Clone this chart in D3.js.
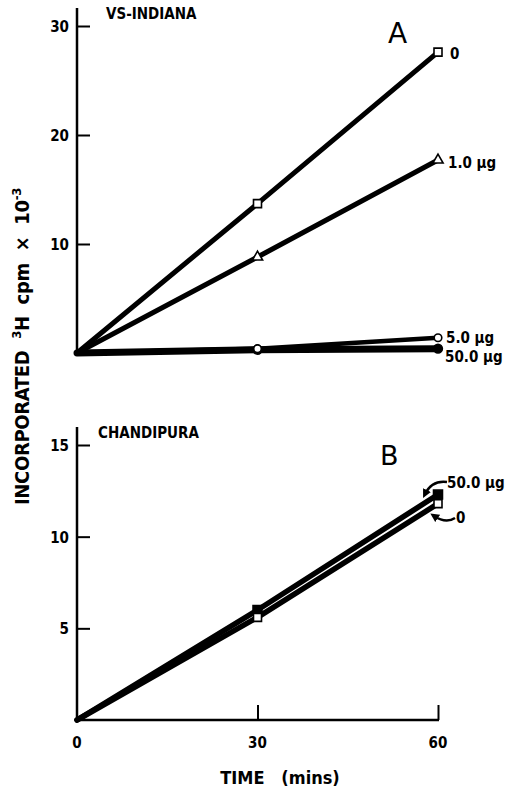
<!DOCTYPE html>
<html><head><meta charset="utf-8">
<script src="https://cdn.jsdelivr.net/npm/d3@7"></script>
<style>
body{margin:0;background:#fff;}
text{font-family:"DejaVu Sans Condensed","DejaVu Sans",sans-serif;font-weight:bold;fill:#000;}
</style></head><body>
<script>
const times = [0, 30, 60];
const aZero = [0, 13.7, 27.6];
const aOne = [0, 8.8, 17.7];
const aFive = [0, 0.4, 1.4];
const aFifty = [0, 0.3, 0.4];
const bZero = [0, 5.6, 11.8];
const bFifty = [0, 6.0, 12.3];
const aTicks = [10, 20, 30];
const bTicks = [5, 10, 15];
const xTicks = [0, 30, 60];

const svg = d3.select("body").append("svg").attr("width", 509).attr("height", 790);
const x = d3.scaleLinear().domain([0, 60]).range([77, 438]);
const yA = d3.scaleLinear().domain([0, 30]).range([353, 26]);
const yB = d3.scaleLinear().domain([0, 15]).range([720, 445]);

function yAxis(y, ticks, top) {
  const g = svg.append("g").attr("transform", "translate(77,0)");
  g.call(d3.axisRight(y).tickValues(ticks).tickSize(13).tickFormat(""));
  g.select(".domain").remove();
  g.selectAll(".tick line").attr("stroke", "#000").attr("stroke-width", 2);
  svg.append("line").attr("x1", 77).attr("x2", 77).attr("y1", top).attr("y2", y(0) + 1)
    .attr("stroke", "#000").attr("stroke-width", 2.5);
  ticks.forEach(t => {
    svg.append("text").attr("x", 69).attr("y", y(t) + 6).attr("text-anchor", "end")
      .attr("font-size", 15).text(t);
  });
}
yAxis(yA, aTicks, 8);
yAxis(yB, bTicks, 427);

// panel B x axis
const gx = svg.append("g").attr("transform", `translate(0,${yB(0)})`);
gx.call(d3.axisTop(x).tickValues([30, 60]).tickSize(15).tickFormat(""));
gx.select(".domain").remove();
gx.selectAll(".tick line").attr("stroke", "#000").attr("stroke-width", 2);
svg.append("line").attr("x1", 76).attr("x2", x(60) + 1).attr("y1", yB(0)).attr("y2", yB(0))
  .attr("stroke", "#000").attr("stroke-width", 2.5);
xTicks.forEach(t => {
  svg.append("text").attr("x", x(t)).attr("y", 748).attr("text-anchor", "middle")
    .attr("font-size", 15).text(t);
});
svg.append("text").attr("x", 280).attr("y", 784).attr("text-anchor", "middle")
  .attr("font-size", 18).attr("xml:space", "preserve").text("TIME   (mins)");

function series(y, vals, width, marker, filled, size) {
  const pts = times.map((t, i) => [x(t), y(vals[i])]);
  svg.append("path").attr("d", d3.line()(pts)).attr("fill", "none")
    .attr("stroke", "#000").attr("stroke-width", width).attr("stroke-linecap", "round");
  const sym = d3.symbol().type(marker).size(size);
  pts.slice(1).forEach(p => {
    svg.append("path").attr("d", sym()).attr("transform", `translate(${p[0]},${p[1]})`)
      .attr("fill", filled ? "#000" : "#fff").attr("stroke", "#000").attr("stroke-width", 1.6);
  });
}
series(yA, aFifty, 7, d3.symbolCircle, true, 60);
series(yA, aFive, 4.5, d3.symbolCircle, false, 45);
series(yA, aOne, 5, d3.symbolTriangle, false, 45);
series(yA, aZero, 5, d3.symbolSquare, false, 64);
series(yB, bFifty, 5.5, d3.symbolSquare, true, 80);
series(yB, bZero, 5.5, d3.symbolSquare, false, 64);

function lab(xp, yp, txt, fs) {
  svg.append("text").attr("x", xp).attr("y", yp).attr("font-size", fs || 15).text(txt);
}
// panel A labels
lab(450, 59, "0");
lab(448, 168, "1.0 µg");
lab(446, 343, "5.0 µg");
lab(445, 362, "50.0 µg");
lab(106, 19, "VS-INDIANA");
svg.append("text").attr("x", 388).attr("y", 43).attr("font-size", 28)
  .style("font-weight", "normal").style("font-family", "'DejaVu Sans',sans-serif").text("A");
// panel B labels
lab(98, 438, "CHANDIPURA");
svg.append("text").attr("x", 380).attr("y", 465).attr("font-size", 27)
  .style("font-weight", "normal").style("font-family", "'DejaVu Sans',sans-serif").text("B");
lab(447, 488, "50.0 µg");
lab(456, 523, "0");
// arrows
svg.append("defs").append("marker").attr("id", "ah").attr("viewBox", "0 0 10 10")
  .attr("refX", 5).attr("refY", 5).attr("markerWidth", 3.5).attr("markerHeight", 3.5).attr("orient", "auto")
  .append("path").attr("d", "M0,0L10,5L0,10z").attr("fill", "#000");
svg.append("path").attr("d", "M447,482 Q432,480 425,494")
  .attr("fill", "none").attr("stroke", "#000").attr("stroke-width", 2.5).attr("marker-end", "url(#ah)");
svg.append("path").attr("d", "M455,518 Q446,524 434,516")
  .attr("fill", "none").attr("stroke", "#000").attr("stroke-width", 2.5).attr("marker-end", "url(#ah)");

// y label
const yl = svg.append("text").attr("transform", "translate(29,505) rotate(-90)")
  .attr("font-size", 20).attr("xml:space", "preserve");
yl.append("tspan").text("INCORPORATED  ");
yl.append("tspan").attr("font-size", 13).attr("dy", -8).text("3");
yl.append("tspan").attr("dy", 8).text("H  cpm  ×  10");
yl.append("tspan").attr("font-size", 13).attr("dy", -8).text("-3");
const len = yl.node().getComputedTextLength();
const nChars = yl.text().length;
yl.style("letter-spacing", ((317 - len) / nChars) + "px");
</script>
</body></html>
